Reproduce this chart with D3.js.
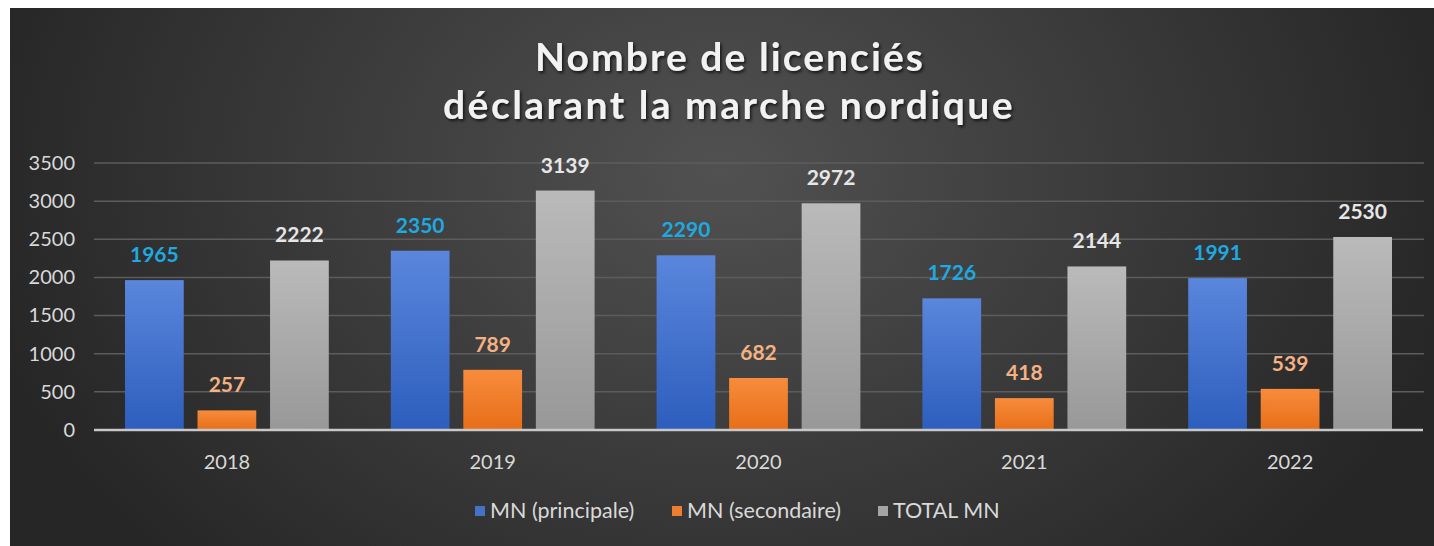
<!DOCTYPE html>
<html><head><meta charset="utf-8">
<script src="https://cdn.jsdelivr.net/npm/d3@7"></script>
<style>html,body{margin:0;padding:0;background:#fff;}svg{display:block;}</style>
</head><body>
<svg id="c" width="1434" height="546"></svg>
<script>
const years = ["2018","2019","2020","2021","2022"];
const seriesNames = ["MN (principale)","MN (secondaire)","TOTAL MN"];
const principale = [1965,2350,2290,1726,1991];
const secondaire = [257,789,682,418,539];
const total = [2222,3139,2972,2144,2530];
const yTicks = [0,500,1000,1500,2000,2500,3000,3500];
const titleLines = ["Nombre de licenciés","déclarant la marche nordique"];

const svg = d3.select("#c");
const W = 1434, H = 546;
const FONT = "Lato, 'Open Sans', sans-serif";
const defs = svg.append("defs");
const bg = defs.append("radialGradient").attr("id","bg").attr("gradientUnits","userSpaceOnUse")
  .attr("cx",720).attr("cy",170).attr("r",760)
  .attr("gradientTransform","translate(720,170) scale(1,0.75) translate(-720,-170)");
bg.append("stop").attr("offset","0").attr("stop-color","#515151");
bg.append("stop").attr("offset","1").attr("stop-color","#262626");
svg.append("rect").attr("x",10).attr("y",8).attr("width",W-10).attr("height",H-8).attr("fill","url(#bg)");

const colors = [
  {top:"#5a86dc", bot:"#2d5ebd", label:"#1ea9e1", key:"#4472c4"},
  {top:"#f78c3c", bot:"#e86e18", label:"#f4b183", key:"#ed7d31"},
  {top:"#bababa", bot:"#989898", label:"#e6e6e6", key:"#a5a5a5"}
];
colors.forEach((c,i)=>{
  const g = defs.append("linearGradient").attr("id","g"+i).attr("x1",0).attr("y1",0).attr("x2",0).attr("y2",1);
  g.append("stop").attr("offset","0").attr("stop-color",c.top);
  g.append("stop").attr("offset","1").attr("stop-color",c.bot);
});
const sh = defs.append("filter").attr("id","tsh").attr("x","-10%").attr("y","-30%").attr("width","120%").attr("height","160%");
sh.append("feDropShadow").attr("dx",1.5).attr("dy",2).attr("stdDeviation",1.5).attr("flood-color","#000").attr("flood-opacity",0.7);

const x0 = 94, x1 = 1423, yBase = 430, yTop = 163;
const x = d3.scaleBand().domain(years).range([x0,x1]).paddingInner(0).paddingOuter(0);
const y = d3.scaleLinear().domain([0,3500]).range([yBase,yTop]);
const xs = d3.scaleBand().domain([0,1,2]).range([31, x.bandwidth()-31]).paddingInner(0.19);

// gridlines
svg.append("g").selectAll("line").data(yTicks.filter(t=>t>0)).join("line")
  .attr("x1",x0).attr("x2",x1+1).attr("y1",d=>y(d)).attr("y2",d=>y(d))
  .attr("stroke","#5c5c5c").attr("stroke-width",1.5);

// y axis
const yAxis = d3.axisLeft(y).tickValues(yTicks).tickFormat(d3.format("d")).tickSize(0).tickPadding(0);
const gy = svg.append("g").attr("transform","translate(75,0)").call(yAxis);
gy.select(".domain").remove();
gy.selectAll("text").attr("font-family",FONT).attr("font-size",20).attr("fill","#d9d9d9");

// bars
const data = [principale, secondaire, total];
data.forEach((vals,si)=>{
  const g = svg.append("g");
  g.selectAll("rect").data(vals).join("rect")
    .attr("x",(d,i)=>x(years[i])+xs(si)).attr("width",xs.bandwidth())
    .attr("y",d=>y(d)).attr("height",d=>yBase-y(d))
    .attr("fill","url(#g"+si+")");
  g.selectAll("text").data(vals).join("text")
    .attr("x",(d,i)=>x(years[i])+xs(si)+xs.bandwidth()/2).attr("y",d=>y(d)-18)
    .attr("text-anchor","middle").attr("font-family",FONT)
    .attr("font-weight","bold").attr("font-size",21).attr("fill",colors[si].label)
    .text(d=>d);
});

// x axis
const xAxis = d3.axisBottom(x).tickSize(0).tickPadding(0);
const gx = svg.append("g").attr("transform",`translate(0,${yBase})`).call(xAxis);
gx.select(".domain").attr("stroke","#c8c8c8").attr("stroke-width",2.5).attr("d",`M${x0},0H${x1}`);
gx.selectAll("text").attr("dy",0).attr("y",39).attr("font-family",FONT).attr("font-size",20).attr("fill","#d9d9d9");

// title
const tTargets = [{cx:730, base:71, w:390},{cx:729, base:119, w:572}];
titleLines.forEach((t,i)=>{
  const el = svg.append("text").attr("x",tTargets[i].cx).attr("y",tTargets[i].base)
    .attr("text-anchor","middle").attr("font-family",FONT)
    .attr("font-weight","bold").attr("font-size",39).attr("fill","#f2f2f2")
    .attr("filter","url(#tsh)").text(t);
  const len = el.node().getComputedTextLength();
  const ls = (tTargets[i].w - len)/t.length;
  el.attr("letter-spacing",ls);
});

// legend
const legX = [475, 672, 878];
const leg = svg.append("g");
seriesNames.forEach((n,i)=>{
  leg.append("rect").attr("x",legX[i]).attr("y",506).attr("width",10).attr("height",10).attr("fill",colors[i].key);
  leg.append("text").attr("x",legX[i]+15).attr("y",518).attr("font-family",FONT)
    .attr("font-size",21.5).attr("fill","#d9d9d9").text(n);
});
</script>
</body></html>
